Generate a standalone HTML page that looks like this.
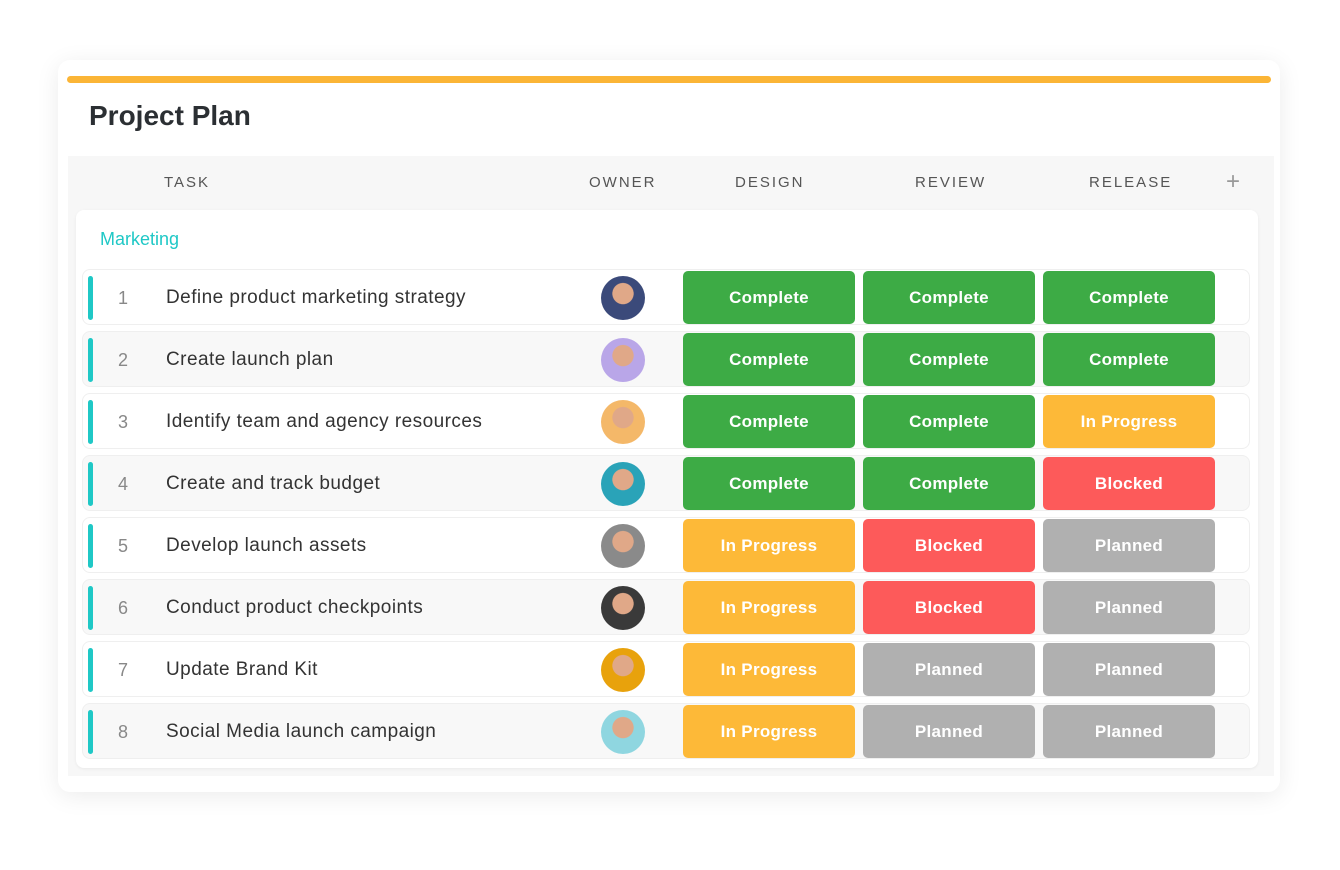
<!DOCTYPE html>
<html><head><meta charset="utf-8"><style>
body{margin:0;width:1340px;height:870px;background:#fff;font-family:"Liberation Sans",sans-serif;position:relative;overflow:hidden}
.a{position:absolute}
.hd{position:absolute;top:174px;font-size:15px;letter-spacing:2px;color:#555}
.row{position:absolute;left:82px;width:1168px;height:56px;border:1px solid #efefef;border-radius:8px;box-sizing:border-box}
.bar{position:absolute;left:5px;top:6px;width:5px;height:44px;background:#1fc8c6;border-radius:3px}
.num{position:absolute;left:30px;width:20px;text-align:center;top:18px;font-size:18px;color:#888}
.task{position:absolute;left:83px;top:17px;font-size:19px;letter-spacing:0.45px;color:#333}
.av{position:absolute;left:518px;top:6px;width:44px;height:44px;border-radius:50%}
.badge{position:absolute;width:172px;height:53px;border-radius:5px;color:#fff;font-weight:bold;font-size:17px;letter-spacing:0.3px;text-align:center;line-height:54px}
</style></head><body>
<div class="a" style="left:58px;top:60px;width:1222px;height:732px;background:#fff;border-radius:12px;box-shadow:0 4px 24px rgba(0,0,0,0.08)"></div>
<div class="a" style="left:67px;top:76px;width:1204px;height:7px;background:#fbb536;border-radius:4px"></div>
<div class="a" style="left:89px;top:100px;font-size:28px;font-weight:bold;color:#2b2f33">Project Plan</div>
<div class="a" style="left:68px;top:156px;width:1206px;height:620px;background:#f7f7f7"></div>
<div class="hd" style="left:164px">TASK</div>
<div class="hd" style="left:589px">OWNER</div>
<div class="hd" style="left:735px">DESIGN</div>
<div class="hd" style="left:915px">REVIEW</div>
<div class="hd" style="left:1089px">RELEASE</div>
<div class="a" style="left:1226px;top:168px;font-size:24px;color:#999">+</div>
<div class="a" style="left:76px;top:210px;width:1182px;height:558px;background:#fff;border-radius:8px;box-shadow:0 1px 3px rgba(0,0,0,0.06)"></div>
<div class="a" style="left:100px;top:229px;font-size:18px;color:#1fc8c6">Marketing</div>
<div id="rows"></div>
<script>
const tasks=["Define product marketing strategy","Create launch plan","Identify team and agency resources","Create and track budget","Develop launch assets","Conduct product checkpoints","Update Brand Kit","Social Media launch campaign"];
const design=["Complete","Complete","Complete","Complete","In Progress","In Progress","In Progress","In Progress"];
const review=["Complete","Complete","Complete","Complete","Blocked","Blocked","Planned","Planned"];
const release=["Complete","Complete","In Progress","Blocked","Planned","Planned","Planned","Planned"];
const avatarColors=["#3b4a7a","#b9a6e8","#f4b869","#2aa3b8","#8a8a8a","#3a3a3a","#e8a20c","#8fd6e0"];
const colors={"Complete":"#3dab45","In Progress":"#fdb938","Blocked":"#fd5a5a","Planned":"#b0b0b0"};
const host=document.getElementById('rows');
tasks.forEach((t,i)=>{
  const r=document.createElement('div');r.className='row';
  
  
  r.style.top=(269+i*62)+'px';r.style.background=i%2?'#f8f8f8':'#fff';
  r.innerHTML='<div class="bar"></div><div class="num">'+(i+1)+'</div><div class="task">'+t+'</div><div class="av" style="background:radial-gradient(circle at 50% 40%,#e0a888 0 30%,'+avatarColors[i]+' 32%)"></div>';
  host.appendChild(r);
  [design,review,release].forEach((arr,j)=>{
    const b=document.createElement('div');b.className='badge';
    
    
    b.style.left=(683+j*180)+'px';b.style.top=(271+i*62)+'px';
    b.style.background=colors[arr[i]];b.textContent=arr[i];
    document.body.appendChild(b);
  });
});
</script>
</body></html>
